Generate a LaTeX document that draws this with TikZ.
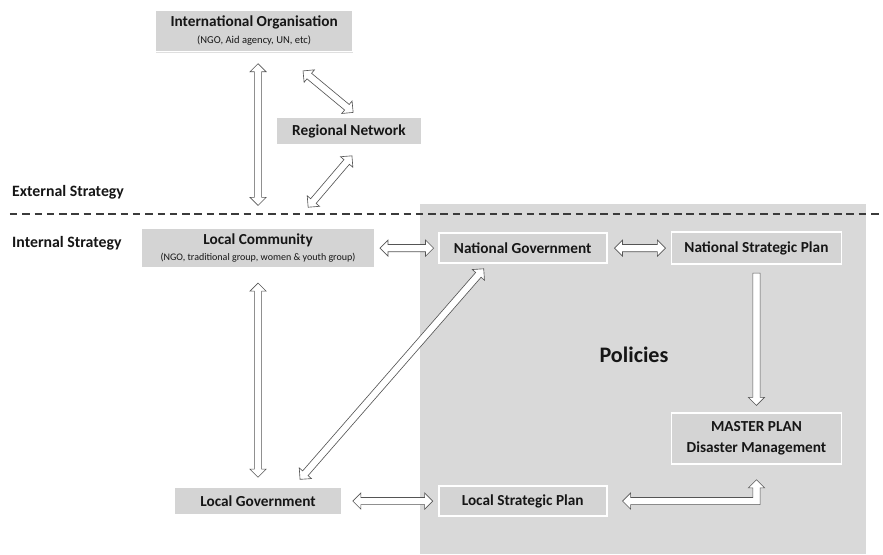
\documentclass[tikz,border=0pt]{standalone}
\usepackage{fontspec}
\setmainfont{Carlito}
\usetikzlibrary{positioning, calc, shadows}

\definecolor{boxgray}{HTML}{D4D4D4}
\definecolor{zonegray}{HTML}{D9D9D9}
\definecolor{edgegray}{HTML}{555555}
\definecolor{inkgray}{HTML}{161616}

\newcommand\headlen{2.7mm}
\newcommand\headw{2.7mm}
\newcommand\shaftw{1.2mm}
\newcommand\subtext{\mdseries\fontsize{9.5}{11}\selectfont}

\newcommand\twoway[2]{%
  \coordinate (arA) at (#1);
  \coordinate (arB) at (#2);
  \draw[hollow] (arA)
    -- ($(arA)!\headlen!(arB)!\headw!90:(arB)$)
    -- ($(arA)!\headlen!(arB)!\shaftw!90:(arB)$)
    -- ($(arB)!\headlen!(arA)!\shaftw!-90:(arA)$)
    -- ($(arB)!\headlen!(arA)!\headw!-90:(arA)$)
    -- (arB)
    -- ($(arB)!\headlen!(arA)!\headw!90:(arA)$)
    -- ($(arB)!\headlen!(arA)!\shaftw!90:(arA)$)
    -- ($(arA)!\headlen!(arB)!\shaftw!-90:(arB)$)
    -- ($(arA)!\headlen!(arB)!\headw!-90:(arB)$)
    -- cycle;}

\newcommand\oneway[2]{%
  \coordinate (arA) at (#1);
  \coordinate (arB) at (#2);
  \draw[hollow] ($(arA)!\shaftw!90:(arB)$)
    -- ($(arB)!\headlen!(arA)!\shaftw!-90:(arA)$)
    -- ($(arB)!\headlen!(arA)!\headw!-90:(arA)$)
    -- (arB)
    -- ($(arB)!\headlen!(arA)!\headw!90:(arA)$)
    -- ($(arB)!\headlen!(arA)!\shaftw!90:(arA)$)
    -- ($(arA)!\shaftw!-90:(arB)$)
    -- cycle;}

\begin{document}
\begin{tikzpicture}[
    node distance=2.1cm,
    box/.style={draw=white, line width=1.6pt, fill=boxgray, text=inkgray, align=center,
        minimum width=5.6cm, minimum height=1cm, inner sep=2pt,
        font=\bfseries\fontsize{14.5}{17}\selectfont,
        drop shadow={shadow xshift=0.2mm, shadow yshift=-0.4mm, opacity=.25}},
    side/.style={font=\bfseries\fontsize{15}{18}\selectfont, text=inkgray, anchor=west, inner sep=0pt},
    hollow/.style={draw=edgegray, fill=white, line width=0.6pt}
]
\useasboundingbox (0,0) rectangle (29.43,-18.47);
\fill[zonegray] (14,-6.8) rectangle (28.87,-18.47);
\draw[edgegray!70!black, line width=1.4pt, dash pattern=on 2.5mm off 1.6mm] (0.33,-7.13) -- (29.43,-7.13);

\node[box, minimum width=7.77cm, minimum height=1.33cm] (lc) at (8.6,-8.27)
    {Local Community\\[-2pt]{\subtext (NGO, traditional group, women \& youth group)}};
\node[box, right=2.08cm of lc] (ng) {National Government};
\node[box, right=of ng, minimum width=5.67cm, minimum height=1.07cm] (nsp) {National Strategic Plan};
\node[box, below=4.9cm of nsp, minimum width=5.67cm, minimum height=1.7cm] (mp)
    {MASTER PLAN\\[3pt]Disaster Management};
\node[box, minimum height=0.93cm] (lg) at (8.6,-16.7) {Local Government};
\node[box] (lsp) at (lg -| ng) {Local Strategic Plan};
\node[box, minimum width=6.57cm, minimum height=1.37cm] (io) at (8.47,-1.03)
    {International Organisation\\[-1pt]{\subtext\fontsize{10}{11}\selectfont (NGO, Aid agency, UN, etc)}};
\node[box, minimum width=4.83cm, minimum height=0.93cm] (rn) at (11.63,-4.37) {Regional Network};

\node[side] (ext) at (0.4,-6.4) {External Strategy};
\node[side] (int) at (0.4,-8.1) {Internal Strategy};
\node[font=\bfseries\fontsize{21}{25}\selectfont, text=inkgray] (pol) at (21.13,-11.83) {Policies};

\twoway{$(io.south)+(0.13,-0.38)$}{$(lc.north)+(0,0.73)$}
\twoway{$(io.south)+(1.63,-0.62)$}{$(rn.north)+(0.14,0.13)$}
\twoway{$(rn.south)+(0.1,-0.33)$}{$(lc.north)+(1.67,0.67)$}
\twoway{[xshift=1.5mm]lc.east}{[xshift=-1.4mm]ng.west}
\twoway{[xshift=2.3mm]ng.east}{[xshift=-1.7mm]nsp.west}
\oneway{[yshift=-2.7mm]nsp.south}{[yshift=2.2mm]mp.north}
\twoway{[yshift=-4.7mm]lc.south}{[yshift=3mm]lg.north}
\twoway{$(ng.south)+(-1.3,-0.16)$}{$(lg.north)+(1.4,0.23)$}
\twoway{[xshift=3.3mm]lg.east}{[xshift=-1.7mm]lsp.west}

\coordinate (elA) at ([xshift=5mm]lsp.east);
\coordinate (elB) at ([yshift=-5mm]mp.south);
\draw[hollow] (elA) -- ($(elA)+(\headlen,\headw)$) -- ($(elA)+(\headlen,\shaftw)$)
    -- ($(elB |- elA)+(-\shaftw,\shaftw)$) -- ($(elB)+(-\shaftw,-\headlen)$)
    -- ($(elB)+(-\headw,-\headlen)$) -- (elB) -- ($(elB)+(\headw,-\headlen)$)
    -- ($(elB)+(\shaftw,-\headlen)$) -- ($(elB |- elA)+(\shaftw,-\shaftw)$)
    -- ($(elA)+(\headlen,-\shaftw)$) -- ($(elA)+(\headlen,-\headw)$) -- cycle;
\end{tikzpicture}
\end{document}
